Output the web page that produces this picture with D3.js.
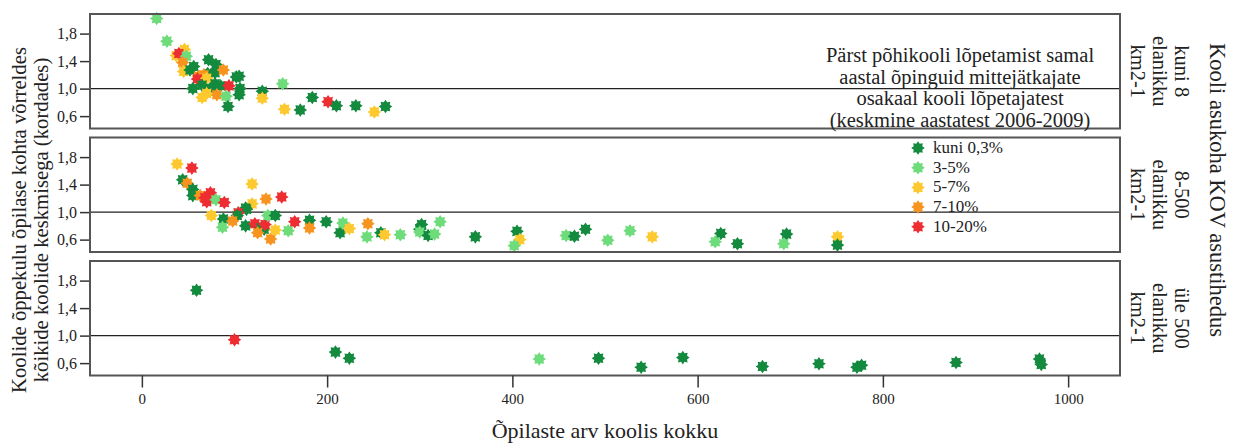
<!DOCTYPE html>
<html>
<head>
<meta charset="utf-8">
<script src="https://cdn.jsdelivr.net/npm/d3@7"></script>
<style>
  body { margin: 0; background: #fff; }
  svg { display: block; }
  text { font-family: "Liberation Serif", "Times New Roman", serif; fill: #222; }
</style>
</head>
<body>
<svg id="chart" width="1234" height="445"></svg>
<script>
// categories of the share of students not continuing after basic school
const categories = ["kuni 0,3%", "3-5%", "5-7%", "7-10%", "10-20%"];
const colors = ["#138a3e", "#6fdc7b", "#fdc92f", "#f7941f", "#ee2d33"];

const panelLabels = [
  ["kuni 8", "elanikku", "km2-1"],
  ["8-500", "elanikku", "km2-1"],
  ["üle 500", "elanikku", "km2-1"]
];
const xTicks = [0, 200, 400, 600, 800, 1000];
const yTicks = [0.6, 1.0, 1.4, 1.8];
const noteLines = [
  "Pärst põhikooli lõpetamist samal",
  "aastal õpinguid mittejätkajate",
  "osakaal kooli lõpetajatest",
  "(keskmine aastatest 2006-2009)"
];

// [students, cost ratio, category]
const lowDensity = [
  [16, 2.02, 1], [27, 1.69, 1], [46, 1.57, 2], [37, 1.48, 2], [40, 1.51, 4], [48, 1.47, 1],
  [44, 1.38, 3], [45, 1.25, 2], [52, 1.27, 0], [56, 1.32, 0], [72, 1.42, 0], [80, 1.35, 0],
  [79, 1.23, 0], [71, 1.22, 0], [88, 1.27, 3], [61, 1.18, 3], [67, 1.20, 3], [60, 1.14, 4],
  [70, 1.15, 2], [102, 1.17, 0], [105, 1.18, 0], [55, 1.00, 0], [65, 1.05, 0], [79, 1.07, 0],
  [75, 1.00, 0], [85, 1.04, 0], [106, 1.00, 0], [105, 0.91, 0], [94, 1.04, 4], [81, 0.91, 3],
  [70, 0.93, 2], [65, 0.87, 2], [91, 0.89, 1], [93, 0.74, 0], [130, 0.96, 0], [130, 0.86, 2],
  [152, 1.07, 1], [154, 0.70, 2], [171, 0.69, 0], [184, 0.87, 0], [201, 0.81, 4], [210, 0.75, 0],
  [231, 0.75, 0], [251, 0.66, 2], [263, 0.74, 0]
];
const midDensity = [
  [38, 1.70, 2], [54, 1.64, 4], [44, 1.47, 0], [49, 1.42, 3], [55, 1.33, 0], [55, 1.24, 0],
  [63, 1.24, 3], [74, 1.28, 4], [68, 1.21, 4], [70, 1.15, 4], [80, 1.18, 1], [89, 1.14, 4],
  [119, 1.41, 2], [119, 1.12, 2], [134, 1.19, 3], [151, 1.22, 4], [112, 1.06, 0], [113, 1.04, 0],
  [104, 0.99, 4], [103, 0.95, 0], [75, 0.95, 2], [88, 0.90, 0], [87, 0.78, 1], [98, 0.87, 3],
  [112, 0.80, 0], [122, 0.83, 4], [132, 0.75, 0], [129, 0.77, 0], [133, 0.82, 4], [125, 0.70, 3],
  [139, 0.61, 3], [136, 0.95, 1], [144, 0.95, 0], [144, 0.74, 2], [158, 0.73, 1], [165, 0.86, 4],
  [181, 0.88, 0], [181, 0.77, 3], [199, 0.86, 0], [214, 0.70, 0], [217, 0.84, 1], [224, 0.76, 2],
  [244, 0.83, 3], [243, 0.64, 1], [258, 0.70, 0], [262, 0.67, 2], [279, 0.67, 1], [300, 0.75, 0],
  [302, 0.82, 0], [300, 0.71, 1], [309, 0.66, 0], [316, 0.68, 1], [322, 0.86, 1], [360, 0.64, 0],
  [405, 0.72, 0], [408, 0.60, 2], [402, 0.51, 1], [458, 0.66, 1], [467, 0.65, 0], [479, 0.75, 0],
  [503, 0.59, 1], [527, 0.73, 1], [551, 0.64, 2], [625, 0.69, 0], [619, 0.57, 1], [643, 0.54, 0],
  [696, 0.68, 0], [693, 0.54, 1], [751, 0.64, 2], [751, 0.52, 0]
];
const highDensity = [
  [59, 1.66, 0], [100, 0.94, 4], [209, 0.76, 0], [224, 0.67, 0], [429, 0.66, 1], [493, 0.67, 0],
  [539, 0.54, 0], [584, 0.68, 0], [670, 0.55, 0], [731, 0.59, 0], [772, 0.54, 0], [777, 0.57, 0],
  [879, 0.61, 0], [969, 0.66, 0], [971, 0.58, 0]
];
const panels = [lowDensity, midDensity, highDensity];

const svg = d3.select("#chart");
const left = 90, right = 1120;
const panelTops = [14, 137.5, 261];
const panelH = 114.5;

const x = d3.scaleLinear().domain([-56, 1056]).range([left, right]);
const color = d3.scaleOrdinal().domain(d3.range(5)).range(colors);

// 8-pointed star marker
const star = d3.lineRadial().curve(d3.curveLinearClosed)(
  d3.range(16).map(i => [i * Math.PI / 8, i % 2 ? 4.6 : 6.8])
);

panels.forEach(function(data, i) {
  const top = panelTops[i];
  const y = d3.scaleLinear().domain([0.42, 2.085]).range([top + panelH, top]);
  const g = svg.append("g");

  // y axis
  const yAxis = g.append("g")
    .attr("transform", "translate(" + left + ",0)")
    .call(d3.axisLeft(y).tickValues(yTicks).tickSize(10).tickPadding(3)
      .tickFormat(d => d3.format(".1f")(d).replace(".", ",")));
  yAxis.select(".domain").remove();
  yAxis.selectAll("line").attr("stroke", "#333").attr("stroke-width", 1.5);
  yAxis.selectAll("text").attr("font-size", 16).attr("font-family", "Liberation Serif").attr("fill", "#222");

  // reference line at 1,0
  g.append("line")
    .attr("x1", left).attr("x2", right)
    .attr("y1", y(1)).attr("y2", y(1))
    .attr("stroke", "#222").attr("stroke-width", 1.4);

  g.append("g").selectAll("path")
    .data(data)
    .join("path")
    .attr("d", star)
    .attr("transform", d => "translate(" + x(d[0]) + "," + y(d[1]) + ")")
    .attr("fill", d => color(d[2]));

  // panel frame
  g.append("rect")
    .attr("x", left).attr("y", top)
    .attr("width", right - left).attr("height", panelH)
    .attr("fill", "none").attr("stroke", "#555").attr("stroke-width", 2);

  // density label on the right
  const cy = top + panelH / 2;
  panelLabels[i].forEach(function(line, j) {
    svg.append("text")
      .attr("transform", "translate(" + (1175 - j * 22) + "," + cy + ") rotate(90)")
      .attr("text-anchor", "middle")
      .attr("font-size", 20.5)
      .text(line);
  });
});

// x axis under the last panel
const xAxis = svg.append("g")
  .attr("transform", "translate(0," + (panelTops[2] + panelH) + ")")
  .call(d3.axisBottom(x).tickValues(xTicks).tickSize(12).tickPadding(6).tickFormat(d3.format("d")));
xAxis.select(".domain").remove();
xAxis.selectAll("line").attr("stroke", "#333").attr("stroke-width", 1.5);
xAxis.selectAll("text").attr("font-size", 15).attr("font-family", "DejaVu Sans Condensed, DejaVu Sans").attr("fill", "#222");

// note in the first panel
noteLines.forEach(function(line, j) {
  svg.append("text")
    .attr("x", 960).attr("y", 62 + j * 21.5)
    .attr("text-anchor", "middle")
    .attr("font-size", 20.5)
    .text(line);
});

// legend
const legend = svg.append("g");
categories.forEach(function(c, i) {
  const ly = 148 + i * 19.7;
  legend.append("path").attr("d", star)
    .attr("transform", "translate(918," + ly + ")")
    .attr("fill", colors[i]);
  legend.append("text")
    .attr("x", 933).attr("y", ly + 5)
    .attr("font-size", 17)
    .text(c);
});

// axis titles
svg.append("text")
  .attr("x", 605).attr("y", 438)
  .attr("text-anchor", "middle")
  .attr("font-size", 22)
  .text("Õpilaste arv koolis kokku");

["Koolide õppekulu õpilase kohta võrreldes", "kõikide koolide keskmisega (kordades)"].forEach(function(line, j) {
  svg.append("text")
    .attr("transform", "translate(" + (26 + j * 22) + ",220) rotate(-90)")
    .attr("text-anchor", "middle")
    .attr("font-size", 20.7)
    .text(line);
});

svg.append("text")
  .attr("transform", "translate(1210,190) rotate(90)")
  .attr("text-anchor", "middle")
  .attr("font-size", 22.5)
  .text("Kooli asukoha KOV asustihedus");
</script>
</body>
</html>
